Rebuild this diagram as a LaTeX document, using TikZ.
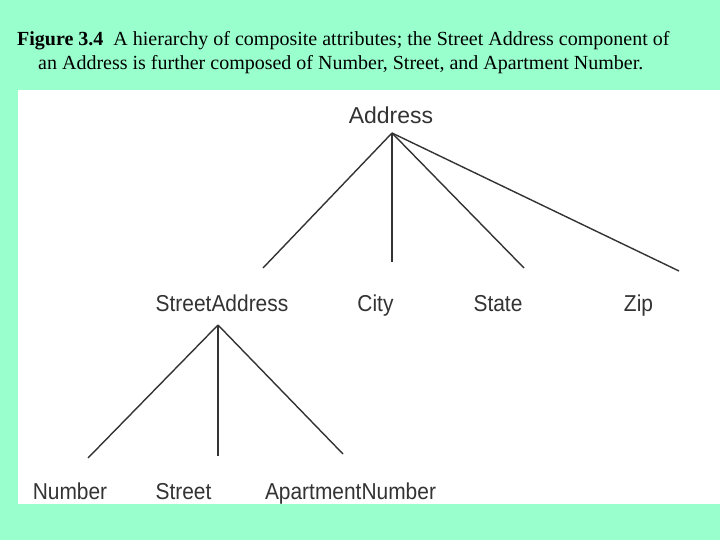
\documentclass[tikz,border=0pt]{standalone}
\usepackage{fontspec}
\usepackage{graphicx}
\setmainfont{Liberation Serif}
\newfontfamily\labfont{Liberation Sans}
\definecolor{mint}{HTML}{99FFCC}
\definecolor{ink}{HTML}{333333}
\newcommand{\narrowtext}[1]{\scalebox{0.91}[1]{#1}}
\begin{document}
\begin{tikzpicture}[x=1pt,y=-1pt,
  lab/.style={font=\labfont\fontsize{23}{26}\selectfont, text=ink, anchor=base, inner sep=0pt},
  captext/.style={font=\fontsize{20}{23}\selectfont, anchor=base west, inner sep=0pt},
  linkline/.style={draw=ink, line width=1.4pt}]
\fill[mint] (0,0) rectangle (720,540);
\useasboundingbox (0,0) rectangle (720,540);
\fill[white] (18,90) rectangle (720,504);
% caption
\node[captext] (cap1) at (17,46) {\textbf{Figure 3.4}\ \ A hierarchy of composite attributes; the Street Address component of};
\node[captext] (cap2) at (38,70) {an Address is further composed of Number, Street, and Apartment Number.};
% labels
\node[lab] (address) at (391,123.5) {Address};
\node[lab] (street-address) at (222,311.5) {\narrowtext{StreetAddress}};
\node[lab] (city) at (375.5,311.5) {\narrowtext{City}};
\node[lab] (state) at (498,311.5) {\narrowtext{State}};
\node[lab] (zip) at (638.5,311.5) {\narrowtext{Zip}};
\node[lab] (number) at (70,499) {\narrowtext{Number}};
\node[lab] (street) at (183.5,499) {\narrowtext{Street}};
\node[lab] (apt) at (350.5,499) {\narrowtext{ApartmentNumber}};
% connector points
\coordinate (a0) at (392,133);
\coordinate (a1) at (263,268);
\coordinate (a2) at (392,262);
\coordinate (a3) at (524,268);
\coordinate (a4) at (679,271);
\coordinate (s0) at (218,325);
\coordinate (s1) at (88,458);
\coordinate (s2) at (218,456);
\coordinate (s3) at (343,454);
\draw[linkline] (a0) -- (a1);
\draw[linkline] (a0) -- (a2);
\draw[linkline] (a0) -- (a3);
\draw[linkline] (a0) -- (a4);
\draw[linkline] (s0) -- (s1);
\draw[linkline] (s0) -- (s2);
\draw[linkline] (s0) -- (s3);
\end{tikzpicture}
\end{document}
